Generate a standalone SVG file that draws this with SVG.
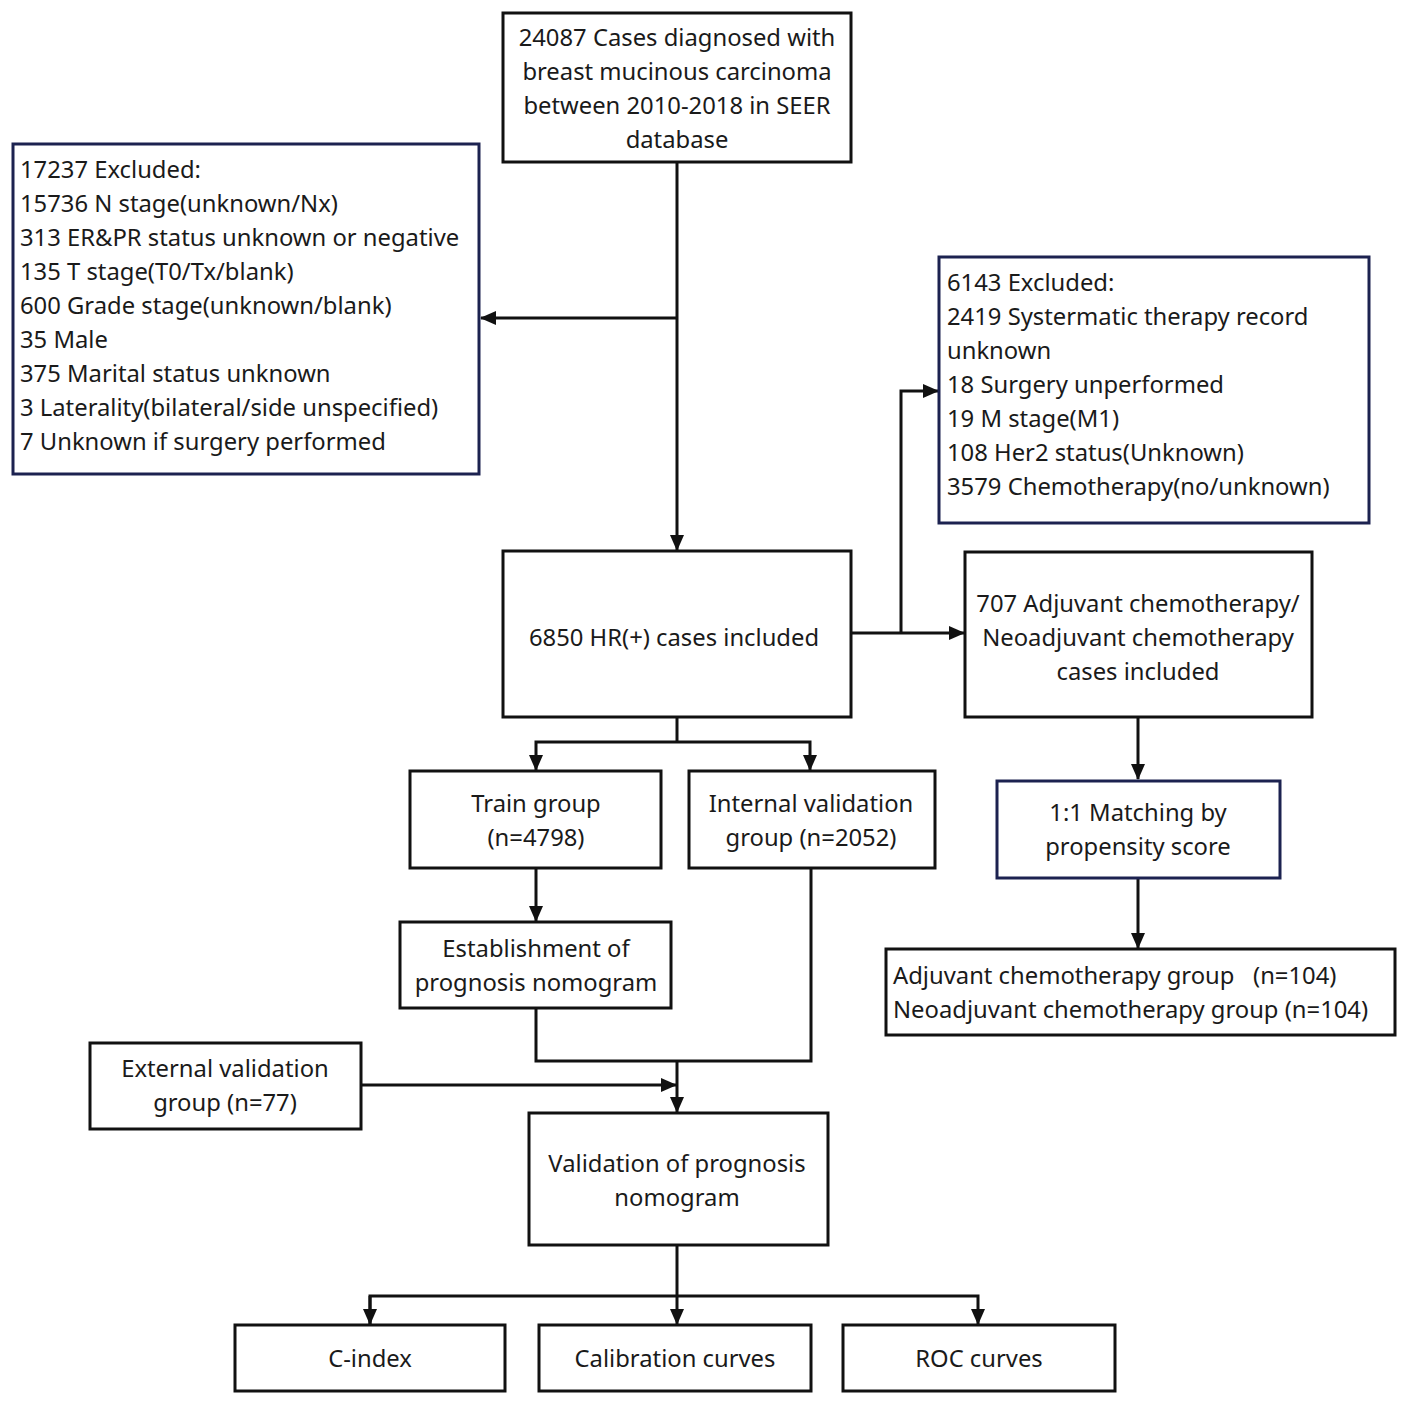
<svg xmlns="http://www.w3.org/2000/svg" width="1417" height="1414" viewBox="0 0 1417 1414">
<style>
.box{fill:#fff;stroke:#111;stroke-width:3}
.nb{fill:#fff;stroke:#1c2250;stroke-width:3}
.t{font-family:"Noto Sans","Open Sans",sans-serif;font-size:23.8px;fill:#1a1a1a}
.c{text-anchor:middle}
.ln{fill:none;stroke:#111;stroke-width:3}
</style>
<defs>
<marker id="ah" viewBox="0 0 16 14" refX="15" refY="7" markerWidth="16" markerHeight="14" markerUnits="userSpaceOnUse" orient="auto">
<path d="M0,0 L16,7 L0,14 Z" fill="#111"/>
</marker>
</defs>
<rect width="1417" height="1414" fill="#fff"/>
<g id="connectors">
<line class="ln" x1="677" y1="162" x2="677" y2="550" marker-end="url(#ah)"/>
<line class="ln" x1="677" y1="318" x2="481" y2="318" marker-end="url(#ah)"/>
<line class="ln" x1="851" y1="633" x2="964" y2="633" marker-end="url(#ah)"/>
<polyline class="ln" points="901,633 901,391 938,391" marker-end="url(#ah)"/>
<line class="ln" x1="1138" y1="717" x2="1138" y2="779" marker-end="url(#ah)"/>
<line class="ln" x1="1138" y1="878" x2="1138" y2="948" marker-end="url(#ah)"/>
<polyline class="ln" points="677,717 677,742"/>
<polyline class="ln" points="677,742 536,742 536,770" marker-end="url(#ah)"/>
<polyline class="ln" points="677,742 810,742 810,770" marker-end="url(#ah)"/>
<line class="ln" x1="536" y1="868" x2="536" y2="921" marker-end="url(#ah)"/>
<polyline class="ln" points="536,1008 536,1061 811,1061 811,868"/>
<line class="ln" x1="677" y1="1061" x2="677" y2="1112" marker-end="url(#ah)"/>
<line class="ln" x1="361" y1="1085" x2="676" y2="1085" marker-end="url(#ah)"/>
<line class="ln" x1="677" y1="1245" x2="677" y2="1324" marker-end="url(#ah)"/>
<polyline class="ln" points="370,1324 370,1296 978,1296 978,1324" marker-end="url(#ah)"/>
<line class="ln" x1="370" y1="1296" x2="370" y2="1324" marker-end="url(#ah)"/>
</g>
<g id="n-start">
<rect class="box" x="503" y="13" width="348" height="149"/>
<text class="t c" x="677" y="46">24087 Cases diagnosed with</text>
<text class="t c" x="677" y="80">breast mucinous carcinoma</text>
<text class="t c" x="677" y="114">between 2010-2018 in SEER</text>
<text class="t c" x="677" y="148">database</text>
</g>
<g id="n-excl1">
<rect class="nb" x="13" y="144" width="466" height="330"/>
<text class="t" x="20" y="178">17237 Excluded:</text>
<text class="t" x="20" y="212">15736 N stage(unknown/Nx)</text>
<text class="t" x="20" y="246">313 ER&amp;PR status unknown or negative</text>
<text class="t" x="20" y="280">135 T stage(T0/Tx/blank)</text>
<text class="t" x="20" y="314">600 Grade stage(unknown/blank)</text>
<text class="t" x="20" y="348">35 Male</text>
<text class="t" x="20" y="382">375 Marital status unknown</text>
<text class="t" x="20" y="416">3 Laterality(bilateral/side unspecified)</text>
<text class="t" x="20" y="450">7 Unknown if surgery performed</text>
</g>
<g id="n-excl2">
<rect class="nb" x="939" y="257" width="430" height="266"/>
<text class="t" x="947" y="291">6143 Excluded:</text>
<text class="t" x="947" y="325">2419 Systermatic therapy record</text>
<text class="t" x="947" y="359">unknown</text>
<text class="t" x="947" y="393">18 Surgery unperformed</text>
<text class="t" x="947" y="427">19 M stage(M1)</text>
<text class="t" x="947" y="461">108 Her2 status(Unknown)</text>
<text class="t" x="947" y="495">3579 Chemotherapy(no/unknown)</text>
</g>
<g id="n-hr">
<rect class="box" x="503" y="551" width="348" height="166"/>
<text class="t c" x="674" y="646">6850 HR(+) cases included</text>
</g>
<g id="n-707">
<rect class="box" x="965" y="552" width="347" height="165"/>
<text class="t c" x="1138" y="612">707 Adjuvant chemotherapy/</text>
<text class="t c" x="1138" y="646">Neoadjuvant chemotherapy</text>
<text class="t c" x="1138" y="680">cases included</text>
</g>
<g id="n-match">
<rect class="nb" x="997" y="781" width="283" height="97"/>
<text class="t c" x="1138" y="821">1:1 Matching by</text>
<text class="t c" x="1138" y="855">propensity score</text>
</g>
<g id="n-groups">
<rect class="box" x="886" y="949" width="509" height="86"/>
<text class="t" x="893" y="984" xml:space="preserve">Adjuvant chemotherapy group   (n=104)</text>
<text class="t" x="893" y="1018">Neoadjuvant chemotherapy group (n=104)</text>
</g>
<g id="n-train">
<rect class="box" x="410" y="771" width="251" height="97"/>
<text class="t c" x="536" y="812">Train group</text>
<text class="t c" x="536" y="846">(n=4798)</text>
</g>
<g id="n-internal">
<rect class="box" x="689" y="771" width="246" height="97"/>
<text class="t c" x="811" y="812">Internal validation</text>
<text class="t c" x="811" y="846">group (n=2052)</text>
</g>
<g id="n-establish">
<rect class="box" x="400" y="922" width="271" height="86"/>
<text class="t c" x="536" y="957">Establishment of</text>
<text class="t c" x="536" y="991">prognosis nomogram</text>
</g>
<g id="n-external">
<rect class="box" x="90" y="1043" width="271" height="86"/>
<text class="t c" x="225" y="1077">External validation</text>
<text class="t c" x="225" y="1111">group (n=77)</text>
</g>
<g id="n-validation">
<rect class="box" x="529" y="1113" width="299" height="132"/>
<text class="t c" x="677" y="1172">Validation of prognosis</text>
<text class="t c" x="677" y="1206">nomogram</text>
</g>
<g id="n-cindex">
<rect class="box" x="235" y="1325" width="270" height="66"/>
<text class="t c" x="370" y="1367">C-index</text>
</g>
<g id="n-calib">
<rect class="box" x="539" y="1325" width="272" height="66"/>
<text class="t c" x="675" y="1367">Calibration curves</text>
</g>
<g id="n-roc">
<rect class="box" x="843" y="1325" width="272" height="66"/>
<text class="t c" x="979" y="1367">ROC curves</text>
</g>
</svg>
